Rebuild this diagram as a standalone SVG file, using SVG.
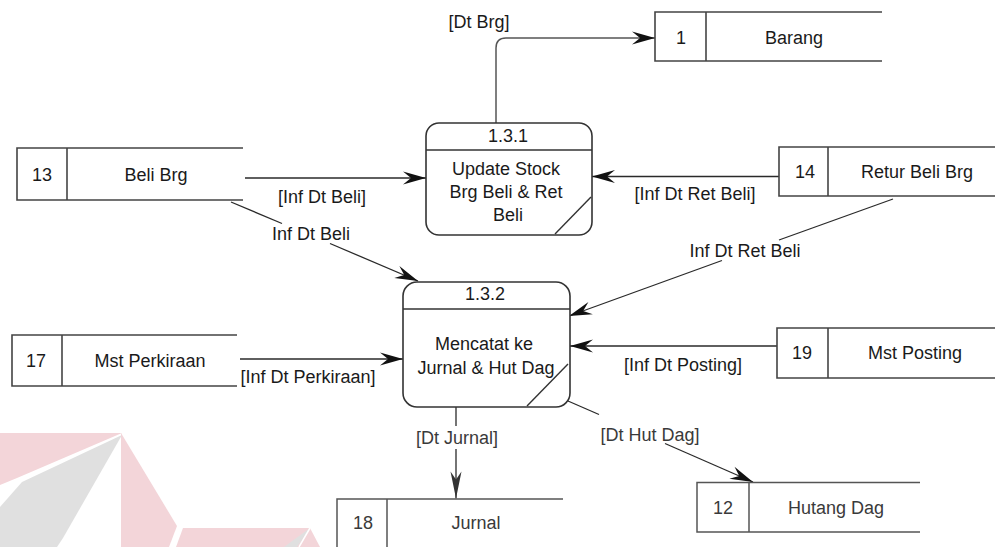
<svg xmlns="http://www.w3.org/2000/svg" width="995" height="547" viewBox="0 0 995 547">
  <style>
    .txt { font-family: "Liberation Sans", Arial, sans-serif; font-size: 18px; fill: #1a1a1a; text-anchor: middle; }
    .low { fill: #3a3a3a; }
    .store { fill: none; stroke: #444; stroke-width: 1.6; }
    .store-low { fill: none; stroke: #555; stroke-width: 1.5; }
    .proc { fill: #fff; stroke: #333; stroke-width: 1.6; }
    .sep { fill: none; stroke: #333; stroke-width: 1.4; }
    .flow { fill: none; stroke: #2a2a2a; stroke-width: 1.3; }
    .flow-g { fill: none; stroke: #555; stroke-width: 1.5; }
  </style>
  <defs>
    <marker id="arr" viewBox="-24 -7 25 14" refX="0" refY="0" markerWidth="25" markerHeight="14" markerUnits="userSpaceOnUse" orient="auto">
      <path d="M0,0 L-23,-6.5 L-15,0 L-23,6.5 Z" fill="#111"/>
    </marker>
    <marker id="arr-long" viewBox="-28 -7 29 14" refX="0" refY="0" markerWidth="29" markerHeight="14" markerUnits="userSpaceOnUse" orient="auto">
      <path d="M0,0 L-27,-5.5 L-19,0 L-27,5.5 Z" fill="#333"/>
    </marker>
  </defs>

  <rect width="995" height="547" fill="#fff"/>

  <!-- faint logo mark, bottom left -->
  <g id="logo-mark">
    <polygon points="0,433 122,433 17,478 0,485" fill="#f3d5d9"/>
    <polygon points="122,435 22,482 0,507 0,547 57,547 63,538" fill="#e0e0e0"/>
    <polygon points="121,433 177,526 169,547 121,547" fill="#f3d5d9"/>
    <polygon points="183,528 310,528 320,547 176,547" fill="#f3d5d9"/>
    <polygon points="310,528 297,547 284,547" fill="#e0e0e0"/>
    <line x1="310" y1="528" x2="299" y2="547" stroke="#fff" stroke-width="1.5"/>
  </g>

  <!-- connectors -->
  <g id="connectors">
    <!-- 1.3.1 -> Barang -->
    <path class="flow-g" d="M496,123 V48 Q496,38 506,38 H655" marker-end="url(#arr)"/>
    <text class="txt" x="479" y="28">[Dt Brg]</text>

    <!-- Beli Brg -> 1.3.1 -->
    <path class="flow" d="M245,178 H426" marker-end="url(#arr)"/>
    <text class="txt" x="322" y="203">[Inf Dt Beli]</text>

    <!-- Retur Beli Brg -> 1.3.1 -->
    <path class="flow" d="M779,176.5 H592" marker-end="url(#arr)"/>
    <text class="txt" x="695" y="200">[Inf Dt Ret Beli]</text>

    <!-- Beli Brg -> 1.3.2 -->
    <path class="flow" d="M231,202 L282,223.5"/>
    <path class="flow" d="M330,243.5 L418,281" marker-end="url(#arr)"/>
    <text class="txt" x="311" y="240">Inf Dt Beli</text>

    <!-- Retur Beli Brg -> 1.3.2 -->
    <path class="flow" d="M893,199 L779,240"/>
    <path class="flow" d="M722,260.5 L569,316" marker-end="url(#arr)"/>
    <text class="txt" x="745" y="257">Inf Dt Ret Beli</text>

    <!-- Mst Perkiraan -> 1.3.2 -->
    <path class="flow" d="M240,359 H403" marker-end="url(#arr)"/>
    <text class="txt" x="308" y="383">[Inf Dt Perkiraan]</text>

    <!-- Mst Posting -> 1.3.2 -->
    <path class="flow" d="M777,346 H570" marker-end="url(#arr)"/>
    <text class="txt" x="683" y="371">[Inf Dt Posting]</text>

    <!-- 1.3.2 -> Jurnal -->
    <path class="flow" d="M456,407 V426"/>
    <path class="flow" d="M456,449 V498.5" marker-end="url(#arr-long)"/>
    <text class="txt low" x="457" y="444">[Dt Jurnal]</text>

    <!-- 1.3.2 -> Hutang Dag -->
    <path class="flow" d="M568,401 L599,414.5"/>
    <path class="flow" d="M665,443.5 L753,482" marker-end="url(#arr)"/>
    <text class="txt low" x="650" y="441">[Dt Hut Dag]</text>
  </g>

  <!-- data stores -->
  <g id="store-1">
    <path class="store" d="M882,12 H655 V61 H882"/>
    <line class="store" x1="706" y1="12" x2="706" y2="61"/>
    <text class="txt" x="681" y="44">1</text>
    <text class="txt" x="794" y="44">Barang</text>
  </g>

  <g id="store-13">
    <path class="store" d="M243,148 H17 V200 H243"/>
    <line class="store" x1="67" y1="148" x2="67" y2="200"/>
    <text class="txt" x="42" y="181">13</text>
    <text class="txt" x="156" y="181">Beli Brg</text>
  </g>

  <g id="store-14">
    <path class="store" d="M996,147 H779 V196 H996"/>
    <line class="store" x1="828" y1="147" x2="828" y2="196"/>
    <text class="txt" x="805" y="178">14</text>
    <text class="txt" x="917" y="178">Retur Beli Brg</text>
  </g>

  <g id="store-17">
    <path class="store" d="M237,335 H12 V386 H237"/>
    <line class="store" x1="62" y1="335" x2="62" y2="386"/>
    <text class="txt" x="36" y="367">17</text>
    <text class="txt" x="150" y="367">Mst Perkiraan</text>
  </g>

  <g id="store-19">
    <path class="store" d="M996,328 H777 V378 H996"/>
    <line class="store" x1="828" y1="328" x2="828" y2="378"/>
    <text class="txt" x="802" y="359">19</text>
    <text class="txt" x="915" y="359">Mst Posting</text>
  </g>

  <g id="store-18">
    <path class="store-low" d="M563,499 H337 V550"/>
    <line class="store-low" x1="387" y1="499" x2="387" y2="550"/>
    <text class="txt low" x="363" y="529">18</text>
    <text class="txt low" x="476" y="529">Jurnal</text>
  </g>

  <g id="store-12">
    <path class="store-low" d="M920,482.5 H697 V532 H920"/>
    <line class="store-low" x1="749" y1="482.5" x2="749" y2="532"/>
    <text class="txt low" x="723" y="514">12</text>
    <text class="txt low" x="836" y="514">Hutang Dag</text>
  </g>

  <!-- processes -->
  <g id="process-1-3-1">
    <rect class="proc" x="426" y="123" width="166" height="112" rx="13" ry="13"/>
    <line class="sep" x1="426" y1="150" x2="592" y2="150"/>
    <line class="sep" x1="555" y1="234" x2="591" y2="197"/>
    <text class="txt" x="508" y="142">1.3.1</text>
    <text class="txt" x="506" y="175">Update Stock</text>
    <text class="txt" x="506" y="198">Brg Beli &amp; Ret</text>
    <text class="txt" x="508" y="221">Beli</text>
  </g>

  <g id="process-1-3-2">
    <rect class="proc" x="403" y="282" width="167" height="125" rx="14" ry="14"/>
    <line class="sep" x1="403" y1="309" x2="570" y2="309"/>
    <line class="sep" x1="527" y1="406" x2="568" y2="364"/>
    <text class="txt" x="485" y="300">1.3.2</text>
    <text class="txt" x="484" y="350">Mencatat ke</text>
    <text class="txt" x="486" y="374">Jurnal &amp; Hut Dag</text>
  </g>
</svg>
